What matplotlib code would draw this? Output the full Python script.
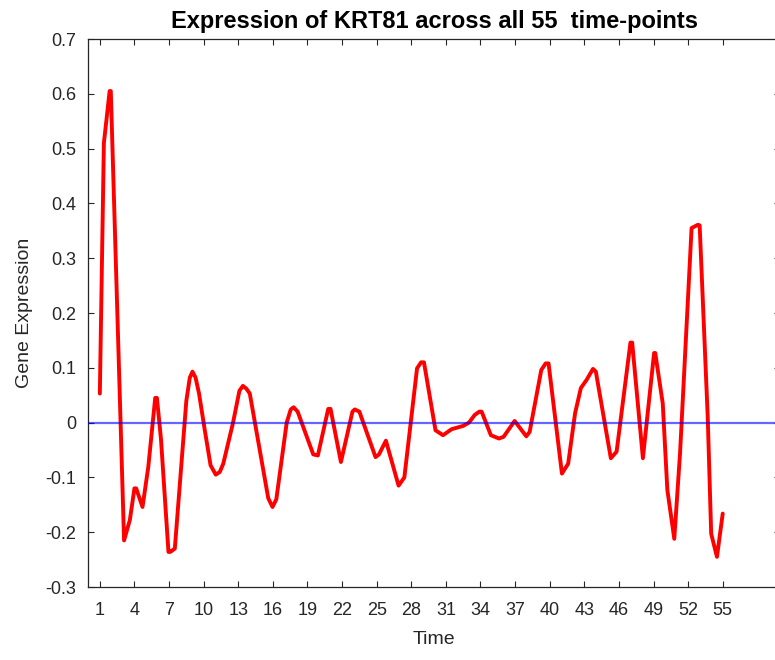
import matplotlib
matplotlib.use("Agg")
import matplotlib.pyplot as plt

# Expression profile of KRT81 (time, value) vertices
time = [1.0, 1.35, 1.85, 1.95, 3.1, 3.6, 4.0, 4.15, 4.7, 5.2, 5.8, 5.95, 6.3,
        6.95, 7.1, 7.5, 8.5, 8.8, 9.03, 9.3, 9.6,
        10.1, 10.6, 11.05, 11.4, 11.7, 12.55, 13.1, 13.4, 13.7, 14.0,
        15.6, 15.97, 16.3, 17.2, 17.55, 17.8, 18.15,
        19.5, 19.9, 20.8, 21.0, 21.9, 22.9, 23.1, 23.5, 24.9, 25.2, 25.8,
        26.9, 27.4, 28.5, 28.85, 29.1, 30.1, 30.75,
        31.5, 32.5, 33.0, 33.5, 33.9, 34.1, 34.9, 35.6, 36.0, 36.96, 37.97, 38.26,
        39.27, 39.65, 39.9, 41.06, 41.6, 42.2, 42.7, 43.2, 43.75, 44.0, 45.3, 45.8,
        47.0, 47.15, 48.08, 49.05, 49.15, 49.8, 50.2, 50.8, 51.3, 52.3, 52.85, 53.0,
        53.7, 54.0, 54.5, 55.0]
expression = [0.053, 0.51, 0.605, 0.605, -0.215, -0.178, -0.12, -0.12, -0.154, -0.081,
              0.045, 0.045, -0.03, -0.236, -0.236,
              -0.23, 0.04, 0.082, 0.093, 0.082, 0.053,
              -0.014, -0.078, -0.095, -0.09, -0.075, 0.0, 0.058, 0.067, 0.062, 0.053,
              -0.138, -0.154, -0.14, 0.0, 0.024, 0.028, 0.02,
              -0.058, -0.06, 0.025, 0.025, -0.072, 0.02, 0.024, 0.02, -0.063, -0.058, -0.033,
              -0.115, -0.10, 0.099, 0.11, 0.11, -0.014, -0.023,
              -0.012, -0.006, 0.0, 0.014, 0.02, 0.02, -0.023, -0.029, -0.026, 0.003, -0.025, -0.017,
              0.096, 0.108, 0.108, -0.093, -0.075, 0.017, 0.063, 0.078, 0.098, 0.093, -0.065, -0.053,
              0.146, 0.146, -0.065, 0.127, 0.127, 0.035, -0.123, -0.212, -0.056, 0.355, 0.361, 0.36,
              0.01, -0.203, -0.245, -0.166]

xticks = list(range(1, 56, 3))
yticks = [-0.3, -0.2, -0.1, 0, 0.1, 0.2, 0.3, 0.4, 0.5, 0.6, 0.7]
ytick_labels = ["-0.3", "-0.2", "-0.1", "0", "0.1", "0.2", "0.3", "0.4", "0.5", "0.6", "0.7"]

plt.rcParams["font.family"] = ["Liberation Sans", "DejaVu Sans"]
dark = "#262626"

W, H = 775, 660
fig = plt.figure(figsize=(W / 100, H / 100), dpi=100)
left, right, top, bottom = 88.3, 780.4, 39.0, 587.0
ax = fig.add_axes([left / W, (H - bottom) / H, (right - left) / W, (bottom - top) / H])

ax.plot(time, expression, color="red", linewidth=2.8,
        solid_joinstyle="round", solid_capstyle="round", zorder=2)
ax.axhline(0, color="blue", linewidth=1.6, alpha=0.6, zorder=3)

ax.set_xlim(0, 60)
ax.set_ylim(-0.3, 0.7)
ax.set_xticks(xticks)
ax.set_yticks(yticks)
ax.set_yticklabels(ytick_labels)

ax.tick_params(direction="in", length=4.5, width=0.8, colors=dark,
               labelsize=13, top=True, right=True)
ax.tick_params(axis="y", pad=8.5)
ax.tick_params(axis="x", pad=10.5)
for s in ax.spines.values():
    s.set_color(dark)
    s.set_linewidth(0.9)

ax.set_title("Expression of KRT81 across all 55  time-points",
             fontsize=17, fontweight="bold", color="black", pad=8)
ax.set_xlabel("Time", fontsize=14, color=dark, labelpad=9)
ax.set_ylabel("Gene Expression", fontsize=14, color=dark, labelpad=9)

fig.savefig("out.png", dpi=100)
